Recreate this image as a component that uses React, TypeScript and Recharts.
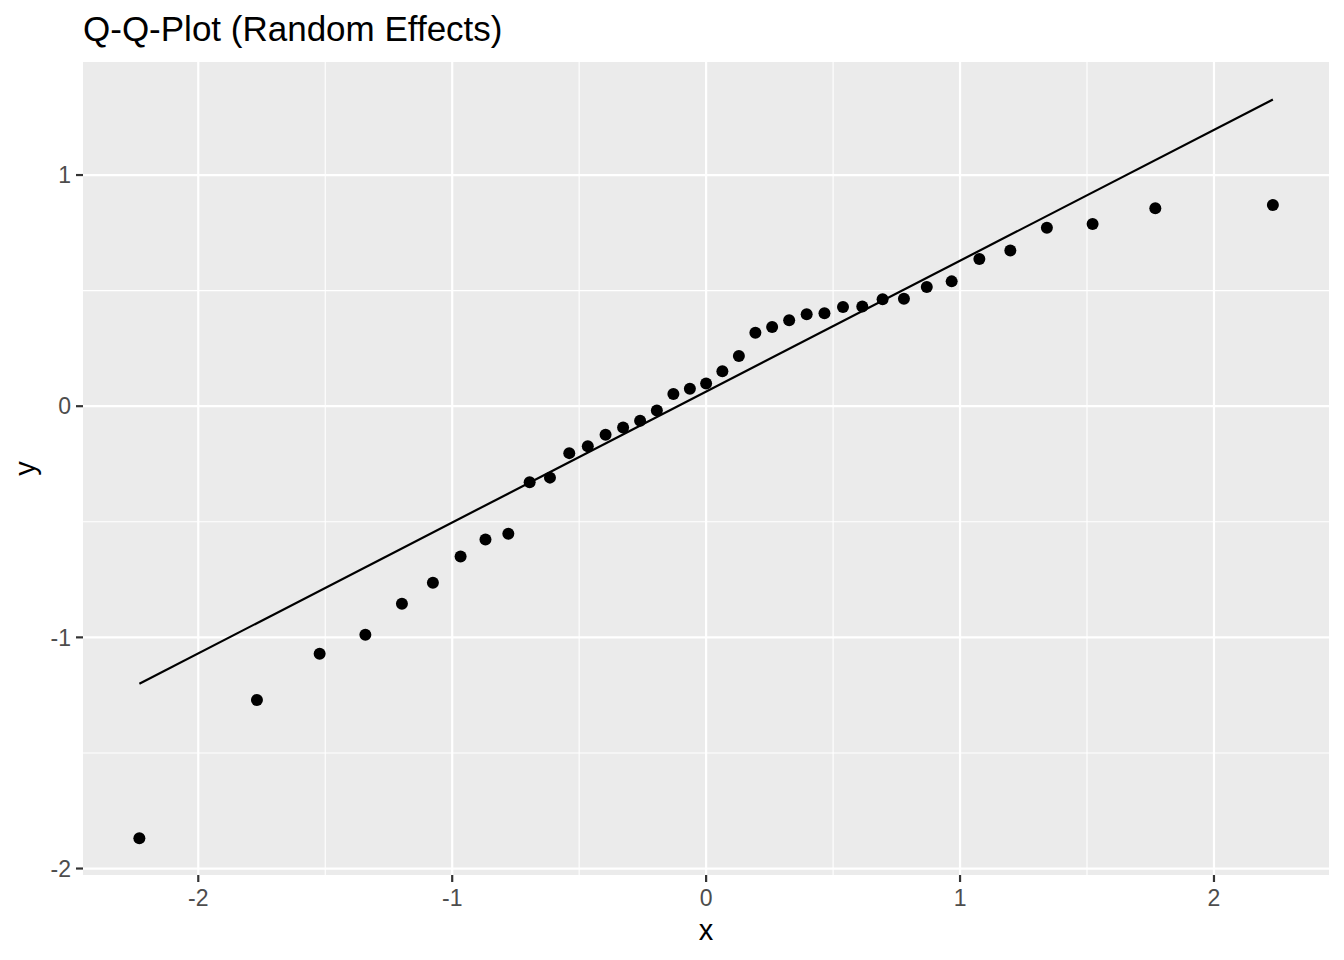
import React from 'react';
import {
  ScatterChart,
  Scatter,
  XAxis,
  YAxis,
  CartesianGrid,
  ReferenceLine,
} from 'recharts';

// theoretical quantiles (x) and sample quantiles (y)
const theoretical = [
  -2.232, -1.769, -1.522, -1.342, -1.198, -1.076, -0.967, -0.869, -0.779, -0.695,
  -0.615, -0.539, -0.466, -0.396, -0.327, -0.26, -0.194, -0.129, -0.064, 0,
  0.064, 0.129, 0.194, 0.26, 0.327, 0.396, 0.466, 0.539, 0.615, 0.695,
  0.779, 0.869, 0.967, 1.076, 1.198, 1.342, 1.522, 1.769, 2.232,
];
const sample = [
  -1.869, -1.271, -1.071, -0.989, -0.855, -0.764, -0.65, -0.577, -0.552, -0.329,
  -0.309, -0.203, -0.173, -0.123, -0.092, -0.063, -0.019, 0.053, 0.076, 0.098,
  0.151, 0.217, 0.318, 0.343, 0.372, 0.398, 0.402, 0.429, 0.431, 0.463,
  0.465, 0.516, 0.54, 0.637, 0.674, 0.772, 0.788, 0.856, 0.87,
];

// reference line end points
const lineX = [-2.232, 2.232];
const lineY = [-1.2006, 1.327];

const xTicks = [-2, -1, 0, 1, 2];
const yTicks = [-2, -1, 0, 1];
const xMinor = [-1.5, -0.5, 0.5, 1.5];
const yMinor = [-1.5, -0.5, 0.5];

const points = theoretical.map((x, i) => ({ x, y: sample[i] }));
const segment = lineX.map((x, i) => ({ x, y: lineY[i] }));

const FONT = '"Liberation Sans", Arial, Helvetica, sans-serif';

export default function App() {
  return (
    <div style={{ position: 'absolute', left: 0, top: 0, width: 1344, height: 960, background: '#fff', fontFamily: FONT }}>
      <div
        style={{
          position: 'absolute',
          left: 83,
          top: 11,
          fontSize: 35,
          lineHeight: '35px',
          color: '#000',
          whiteSpace: 'nowrap',
        }}
      >
        Q-Q-Plot (Random Effects)
      </div>
      <ScatterChart
        width={1344}
        height={960}
        margin={{ top: 62, right: 15, left: 0, bottom: 0 }}
        style={{ fontFamily: FONT }}
      >
        <CartesianGrid stroke="none" fill="#EBEBEB" fillOpacity={1} horizontal={false} vertical={false} />
        {xMinor.map((v) => (
          <ReferenceLine key={'xm' + v} x={v} stroke="#FFFFFF" strokeWidth={1.1} />
        ))}
        {yMinor.map((v) => (
          <ReferenceLine key={'ym' + v} y={v} stroke="#FFFFFF" strokeWidth={1.1} />
        ))}
        {xTicks.map((v) => (
          <ReferenceLine key={'xM' + v} x={v} stroke="#FFFFFF" strokeWidth={2.2} />
        ))}
        {yTicks.map((v) => (
          <ReferenceLine key={'yM' + v} y={v} stroke="#FFFFFF" strokeWidth={2.2} />
        ))}
        <XAxis
          type="number"
          dataKey="x"
          domain={[-2.454, 2.453]}
          ticks={xTicks}
          allowDataOverflow
          axisLine={false}
          tickLine={{ stroke: '#333333', strokeWidth: 2.2 }}
          tickSize={7}
          tickMargin={8}
          tick={{ fill: '#4D4D4D', fontSize: 23 }}
          height={85}
          label={({ viewBox }: any) => (
            <text
              x={viewBox.x + viewBox.width / 2}
              y={940}
              textAnchor="middle"
              fontSize={29}
              fill="#000"
            >
              x
            </text>
          )}
        />
        <YAxis
          type="number"
          dataKey="y"
          domain={[-2.028, 1.489]}
          ticks={yTicks}
          allowDataOverflow
          axisLine={false}
          tickLine={{ stroke: '#333333', strokeWidth: 2.2 }}
          tickSize={7}
          tickMargin={5}
          tick={{ fill: '#4D4D4D', fontSize: 23 }}
          width={83}
          label={({ viewBox }: any) => {
            const cy = viewBox.y + viewBox.height / 2;
            return (
              <text
                x={35}
                y={cy}
                textAnchor="middle"
                fontSize={29}
                fill="#000"
                transform={`rotate(-90, 35, ${cy})`}
              >
                y
              </text>
            );
          }}
        />
        <Scatter
          data={points}
          fill="#000"
          isAnimationActive={false}
          shape={(p: any) => <circle cx={p.cx} cy={p.cy} r={6} fill="#000" />}
        />
        <ReferenceLine
          segment={segment}
          stroke="#000"
          strokeWidth={2.2}
          ifOverflow="visible"
        />
      </ScatterChart>
    </div>
  );
}
